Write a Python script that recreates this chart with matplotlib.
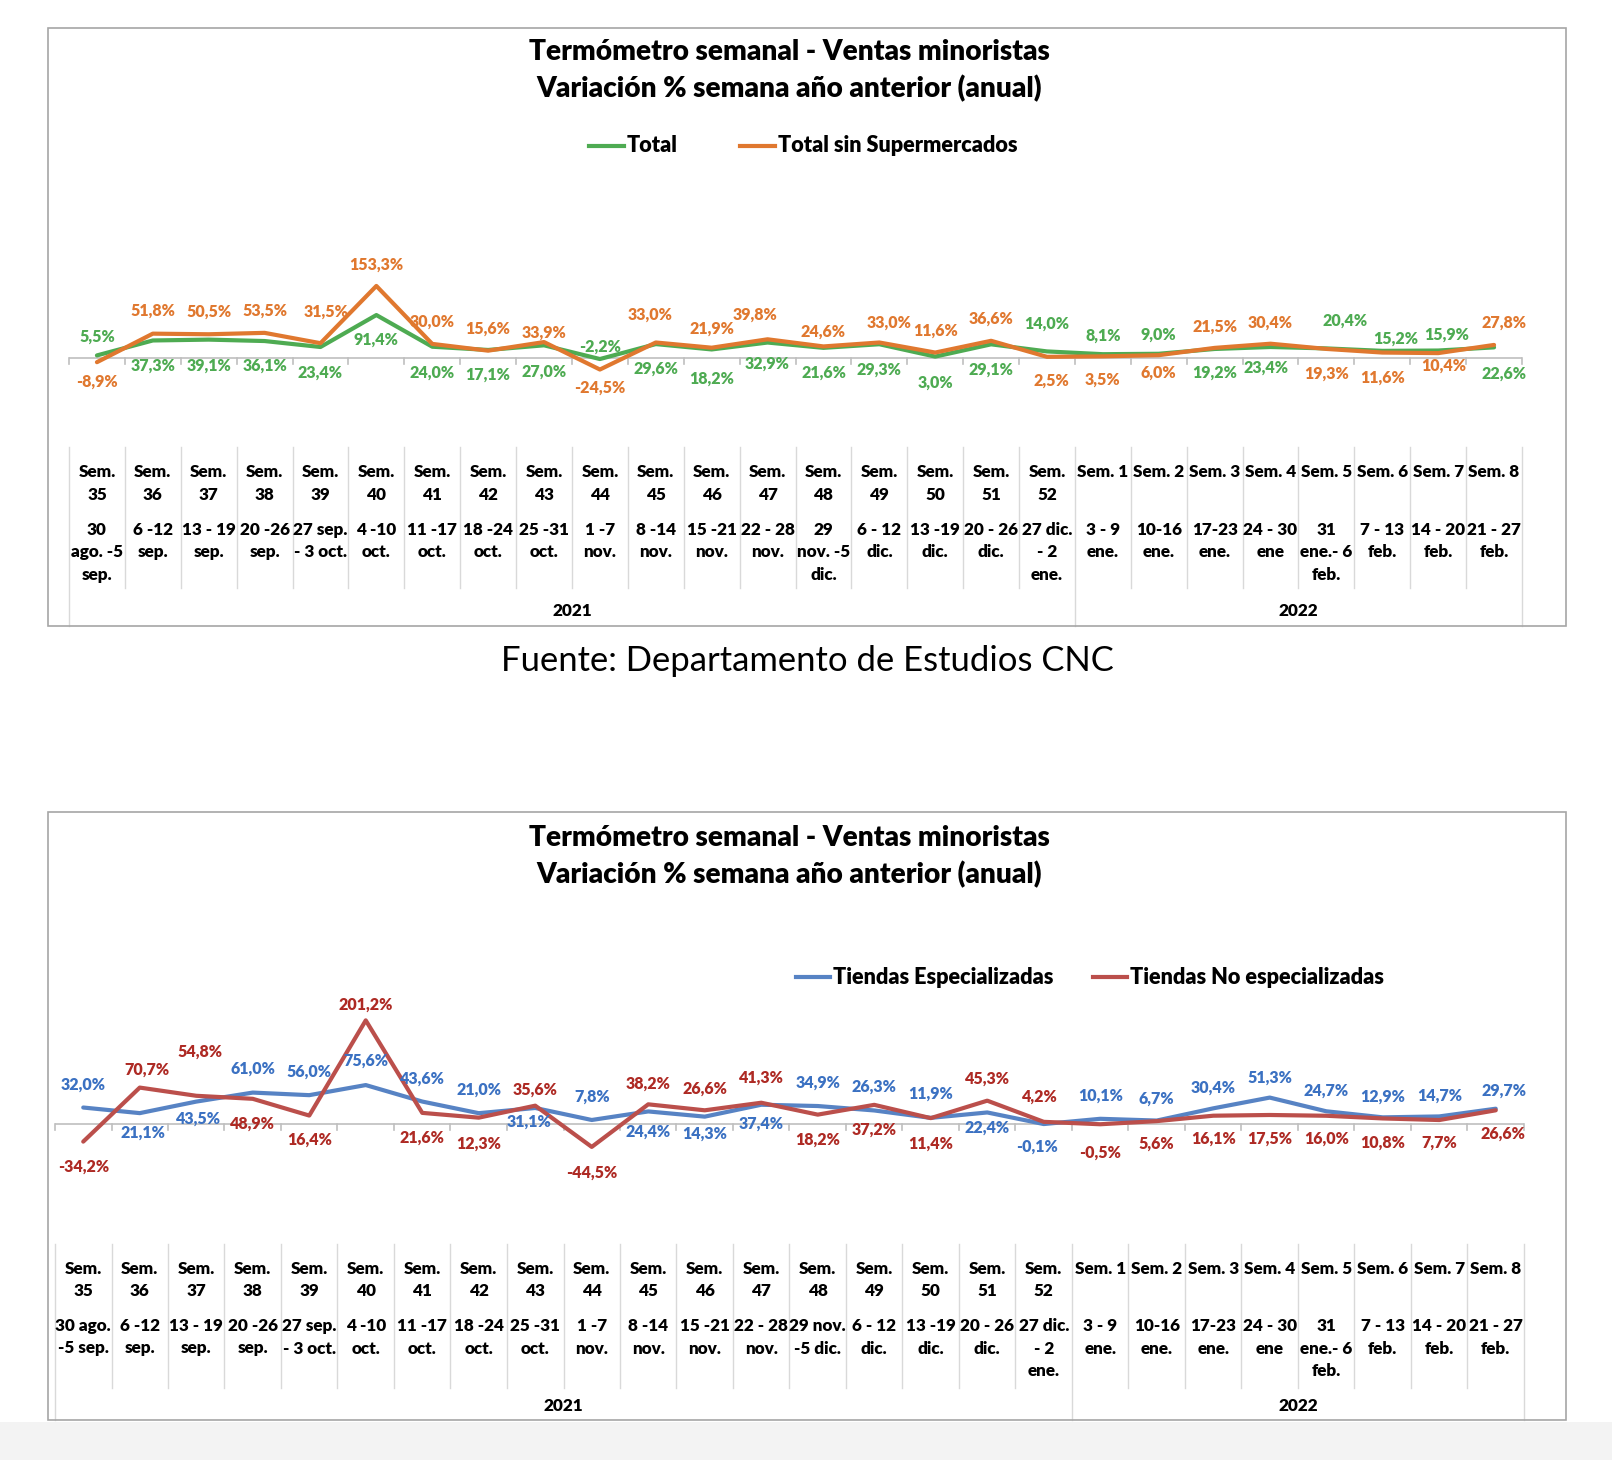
import matplotlib
matplotlib.use("Agg")
import matplotlib.pyplot as plt
from matplotlib.lines import Line2D
from matplotlib.patches import Rectangle
from matplotlib.transforms import blended_transform_factory

plt.rcParams["font.family"] = ["Lato", "DejaVu Sans"]

W, H = 1612, 1460

# ---- data -------------------------------------------------------------
sem_labels = ["Sem.\n35", "Sem.\n36", "Sem.\n37", "Sem.\n38", "Sem.\n39", "Sem.\n40",
              "Sem.\n41", "Sem.\n42", "Sem.\n43", "Sem.\n44", "Sem.\n45", "Sem.\n46",
              "Sem.\n47", "Sem.\n48", "Sem.\n49", "Sem.\n50", "Sem.\n51", "Sem.\n52",
              "Sem. 1", "Sem. 2", "Sem. 3", "Sem. 4", "Sem. 5", "Sem. 6", "Sem. 7", "Sem. 8"]

dates_top = ["30\nago. -5\nsep.", "6 -12\nsep.", "13 - 19\nsep.", "20 -26\nsep.",
             "27 sep.\n- 3 oct.", "4 -10\noct.", "11 -17\noct.", "18 -24\noct.",
             "25 -31\noct.", "1 -7\nnov.", "8 -14\nnov.", "15 -21\nnov.", "22 - 28\nnov.",
             "29\nnov. -5\ndic.", "6 - 12\ndic.", "13 -19\ndic.", "20 - 26\ndic.",
             "27 dic.\n- 2\nene.", "3 - 9\nene.", "10-16\nene.", "17-23\nene.",
             "24 - 30\nene", "31\nene.- 6\nfeb.", "7 - 13\nfeb.", "14 - 20\nfeb.",
             "21 - 27\nfeb."]
dates_bottom = list(dates_top)
dates_bottom[0] = "30 ago.\n-5 sep."
dates_bottom[13] = "29 nov.\n-5 dic."

years = ["2021", "2022"]
year_counts = [18, 8]

total = [5.5, 37.3, 39.1, 36.1, 23.4, 91.4, 24.0, 17.1, 27.0, -2.2, 29.6, 18.2, 32.9,
         21.6, 29.3, 3.0, 29.1, 14.0, 8.1, 9.0, 19.2, 23.4, 20.4, 15.2, 15.9, 22.6]
total_sin_super = [-8.9, 51.8, 50.5, 53.5, 31.5, 153.3, 30.0, 15.6, 33.9, -24.5, 33.0,
                   21.9, 39.8, 24.6, 33.0, 11.6, 36.6, 2.5, 3.5, 6.0, 21.5, 30.4, 19.3,
                   11.6, 10.4, 27.8]

especializadas = [32.0, 21.1, 43.5, 61.0, 56.0, 75.6, 43.6, 21.0, 31.1, 7.8, 24.4, 14.3,
                  37.4, 34.9, 26.3, 11.9, 22.4, -0.1, 10.1, 6.7, 30.4, 51.3, 24.7, 12.9,
                  14.7, 29.7]
no_especializadas = [-34.2, 70.7, 54.8, 48.9, 16.4, 201.2, 21.6, 12.3, 35.6, -44.5, 38.2,
                     26.6, 41.3, 18.2, 37.2, 11.4, 45.3, 4.2, -0.5, 5.6, 16.1, 17.5, 16.0,
                     10.8, 7.7, 26.6]

# label placement (pixel offsets from each point, + = down / right)
total_dy = [-19, 25, 26, 25, 26, 25, 26, 25, 26, -12, 25, 29, 21, 25, 25, 26, 25, -28,
            -19, -19, 24, 21, -28, -12, -16, 26]
total_dx = [0] * 21 + [-5, 19, 13, 8, 10]
sin_dy = [20, -23, -23, -22, -32, -21, -22, -22, -9, 18, -28, -19, -25, -15, -20, -22,
          -22, 24, 23, 18, -21, -21, 25, 25, 13, -22]
sin_dx = [0, 0, 0, 0, 6, 0, 0, 0, 0, 0, -6, 0, -13, 0, 10, 0, 0, 4, 0, 0, 0, 0, 0, 0, 6, 10]
esp_dy = [-23, 20, 17, -24, -23, -24, -23, -23, 14, -23, 20, 17, 19, -23, -24, -24, 15,
          23, -23, -22, -21, -20, -21, -21, -21, -18]
esp_dx = [0, 3, 2, 0, 0, 0, 0, 0, -6, 0, 0, 0, 0, 0, 0, 0, 0, -7, 0, 0, 0, 0, 0, 0, 0, 8]
noesp_dy = [25, -18, -44, 25, 24, -16, 25, 26, -16, 26, -21, -22, -25, 25, 25, 26, -22,
            -25, 28, 23, 23, 24, 23, 24, 23, 23]
noesp_dx = [0, 7, 4, 0, 0, 0, 0, 0, 0, 0, 0, 0, 0, 0, 0, 0, 0, -4, 0, 0, 0, 0, 0, 0, 0, 7]

GREEN, ORANGE = "#4EAB52", "#E0782F"
BLUE, RED = "#5783C4", "#BB4F4B"
BLUE_TXT, RED_TXT = "#3B71C2", "#AE2A24"
GRID = "#D9D9D9"
HEAVY = "heavy"

fig = plt.figure(figsize=(W / 100, H / 100), dpi=100)
fig.patch.set_facecolor("white")


def fy(py):
    return 1 - py / H


def fx(px):
    return px / W


def pct(v):
    return f"{v:.1f}%".replace(".", ",")


def draw_chart(box, x0, x1, zero_y, scale, plot_top, table_top, sem_y, date_y,
               inner_bottom, year_y, title_y, legend_y, legend_items, series, dates):
    bx0, by0, bx1, by1 = box
    fig.add_artist(Rectangle((fx(bx0), fy(by1)), fx(bx1 - bx0), (by1 - by0) / H,
                             transform=fig.transFigure, fill=False,
                             edgecolor="#A6A6A6", linewidth=1.2))
    ax = fig.add_axes([fx(x0), fy(table_top), fx(x1 - x0), (table_top - plot_top) / H])
    n = len(sem_labels)
    ax.set_xlim(0, n)
    ax.set_ylim(-(table_top - zero_y) / scale, (zero_y - plot_top) / scale)
    ax.axis("off")
    ax.patch.set_alpha(0)
    xs = [i + 0.5 for i in range(n)]

    # zero axis with tick marks
    ax.axhline(0, color="#BFBFBF", lw=1.2, zorder=1)
    tr = blended_transform_factory(ax.transData, fig.transFigure)
    for k in range(n + 1):
        ax.add_line(Line2D([k, k], [fy(zero_y), fy(zero_y + 6)], transform=tr,
                           color="#BFBFBF", lw=1.2, clip_on=False))

    for vals, col, tcol, dx, dy in series:
        ax.plot(xs, vals, color=col, lw=3.0, solid_capstyle="round", zorder=3)
        for x, v, ddx, ddy in zip(xs, vals, dx, dy):
            ax.annotate(pct(v), (x, v), xytext=(ddx * 0.72, -ddy * 0.72),
                        textcoords="offset points", ha="center", va="center",
                        fontsize=11.5, fontweight=HEAVY, color=tcol, zorder=4)

    # category table
    split = year_counts[0]
    for k in range(n + 1):
        bottom = by1 if k in (0, split, n) else inner_bottom
        ax.add_line(Line2D([k, k], [fy(table_top), fy(bottom)], transform=tr,
                           color=GRID, lw=1.0, clip_on=False))
    for x, s, d in zip(xs, sem_labels, dates):
        ax.text(x, fy(sem_y), s, transform=tr, ha="center", va="top", fontsize=12.3,
                fontweight=HEAVY, linespacing=1.5)
        ax.text(x, fy(date_y), d, transform=tr, ha="center", va="top", fontsize=12.3,
                fontweight=HEAVY, linespacing=1.5)
    start = 0
    for yr, cnt in zip(years, year_counts):
        ax.text(start + cnt / 2, fy(year_y), yr, transform=tr, ha="center",
                va="center", fontsize=12.3, fontweight=HEAVY)
        start += cnt

    cx = 789
    fig.text(fx(cx), fy(title_y[0]), "Termómetro semanal - Ventas minoristas",
             ha="center", va="center", fontsize=20.2, fontweight=HEAVY)
    fig.text(fx(cx), fy(title_y[1]), "Variación % semana año anterior (anual)",
             ha="center", va="center", fontsize=20.2, fontweight=HEAVY)
    for lx0, lx1, col, name in legend_items:
        fig.add_artist(Line2D([fx(lx0), fx(lx1)], [fy(legend_y)] * 2,
                              transform=fig.transFigure, color=col, lw=3.0))
        fig.text(fx(lx1 + 3), fy(legend_y), name, ha="left", va="center",
                 fontsize=15.6, fontweight=HEAVY)
    return ax


draw_chart(box=(48, 28, 1566, 626), x0=69, x1=1522, zero_y=358, scale=0.47,
           plot_top=170, table_top=447, sem_y=464, date_y=522, inner_bottom=588,
           year_y=611, title_y=(52, 89), legend_y=146,
           legend_items=[(589, 624, GREEN, "Total"),
                         (740, 775, ORANGE, "Total sin Supermercados")],
           series=[(total, GREEN, GREEN, total_dx, total_dy),
                   (total_sin_super, ORANGE, ORANGE, sin_dx, sin_dy)],
           dates=dates_top)

fig.text(fx(807), fy(661), "Fuente: Departamento de Estudios CNC", ha="center",
         va="center", fontsize=24.9)

draw_chart(box=(48, 812, 1566, 1420), x0=55, x1=1524, zero_y=1124, scale=0.515,
           plot_top=880, table_top=1244, sem_y=1261, date_y=1318, inner_bottom=1388,
           year_y=1406, title_y=(838, 875), legend_y=977,
           legend_items=[(796, 830, BLUE, "Tiendas Especializadas"),
                         (1093, 1127, RED, "Tiendas No especializadas")],
           series=[(especializadas, BLUE, BLUE_TXT, esp_dx, esp_dy),
                   (no_especializadas, RED, RED_TXT, noesp_dx, noesp_dy)],
           dates=dates_bottom)

fig.add_artist(Rectangle((0, 0), 1, (H - 1422) / H, transform=fig.transFigure,
                         facecolor="#F3F3F3", edgecolor="none"))

fig.savefig("out.png", dpi=100, facecolor="white")
